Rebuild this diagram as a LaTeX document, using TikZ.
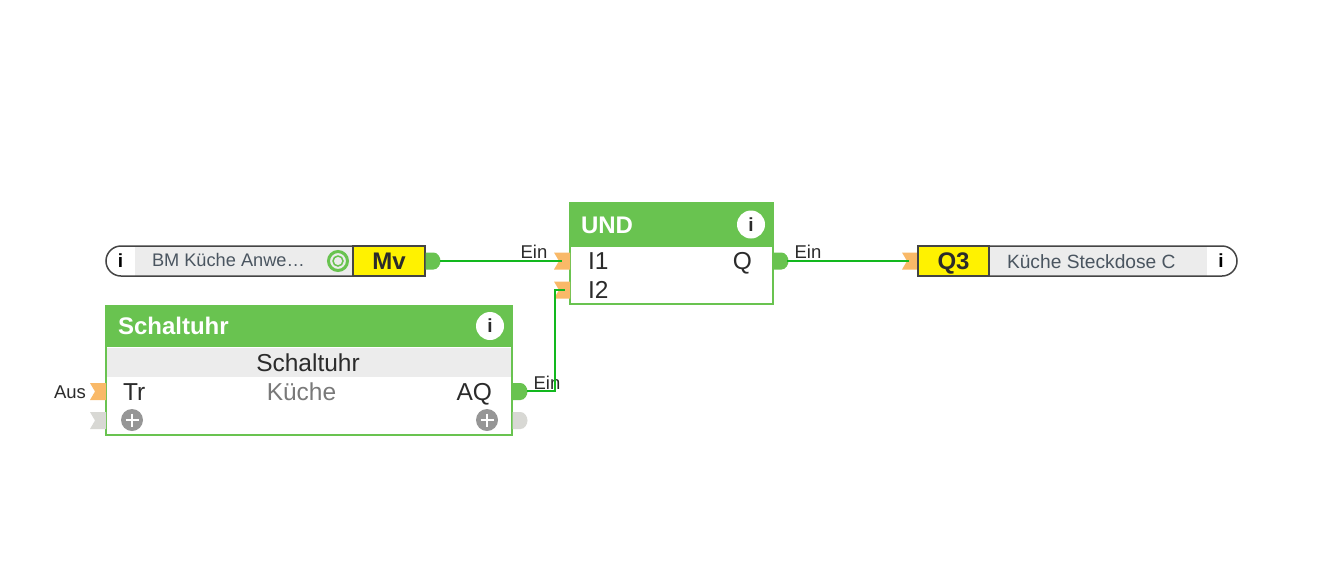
\documentclass[tikz,border=0pt]{standalone}
\usepackage{fontspec}
\setmainfont{Liberation Sans}
\definecolor{lgreen}{HTML}{69C350}
\definecolor{wire}{HTML}{12B81E}
\definecolor{band}{HTML}{ECECEC}
\definecolor{portin}{HTML}{F9B968}
\definecolor{portoff}{HTML}{D8D8D4}
\definecolor{plusg}{HTML}{969696}
\definecolor{edge}{HTML}{444444}
\definecolor{txt}{HTML}{2B2B2B}
\definecolor{labelg}{HTML}{4A5560}
\newcommand{\fs}[1]{\fontsize{#1}{#1}\selectfont}
\tikzset{
  x=1pt,y=-1pt,
  every node/.append style={outer sep=0pt},
  fbox/.style={draw=lgreen,line width=1.5pt,fill=white,inner sep=0pt,anchor=north west},
  head/.style={fill=lgreen,draw=lgreen,line width=1pt,inner sep=0pt,anchor=north west},
  headtxt/.style={text=white,font=\bfseries\fs{24},inner sep=0pt,anchor=west,text height=17pt,text depth=0pt},
  bandbox/.style={fill=band,inner sep=0pt,anchor=north west},
  pintxt/.style={text=txt,font=\fs{24.5},inner sep=0pt,text height=17pt,text depth=0pt},
  wirelab/.style={text=txt,font=\fs{18.5},inner sep=0pt,text height=13pt,text depth=0pt},
  infocirc/.style={circle,fill=white,minimum size=28pt,inner sep=0pt,text=txt,font=\bfseries\fs{19},text height=13pt,text depth=0pt},
  infoplain/.style={inner sep=0pt,text=black,font=\bfseries\fs{19},text height=13pt,text depth=0pt},
  plusbtn/.style={circle,fill=plusg,minimum size=22pt,inner sep=0pt},
  yellowbox/.style={fill=yellow,draw=edge,line width=1.5pt,inner sep=0pt,anchor=north west,text=txt,font=\bfseries\fs{24},text height=17pt,text depth=0pt},
  greybox/.style={fill=band,inner sep=0pt,anchor=north west},
  iotxt/.style={text=labelg,font=\fs{19.2},inner sep=0pt,anchor=west,text height=13.5pt,text depth=0pt},
  pill/.style={draw=edge,line width=1.5pt},
  wireline/.style={draw=wire,line width=2pt},
}
% input flag: #1 colour, #2 right x, #3 centre y
\newcommand{\inflag}[3]{\fill[#1] (#2-16,#3-8.5) -- (#2,#3-8.5) -- (#2,#3+8.5) -- (#2-16,#3+8.5) -- (#2-11,#3) -- cycle;}
% output lobe: #1 colour, #2 left x, #3 centre y
\newcommand{\outlobe}[3]{\fill[#1] (#2,#3-8.5) -- (#2+8,#3-8.5) .. controls (#2+12,#3-8.5) and (#2+15,#3-4) .. (#2+15,#3) .. controls (#2+15,#3+4) and (#2+12,#3+8.5) .. (#2+8,#3+8.5) -- (#2,#3+8.5) -- cycle;}
\begin{document}
\begin{tikzpicture}
\useasboundingbox[fill=white] (0,0) rectangle (1330,582);

% --- input pill
\node[greybox,minimum width=218pt,minimum height=29pt] (bmgrey) at (135,246.5) {};
\draw[pill] (353,246) -- (121,246) arc[start angle=270,end angle=90,radius=15] -- (353,276);
\node[infoplain] (bminfo) at (120.5,261) {i};
\node[iotxt,font=\fs{18.2}] (bmtxt) at (152,260) {BM Küche Anwe…};
\node[circle,draw=lgreen,fill=none,line width=3pt,minimum size=19pt,inner sep=0pt] (bmring) at (338,261) {};
\node[circle,draw=lgreen,fill=none,line width=1.5pt,minimum size=10pt,inner sep=0pt] (bmdot) at (338,261) {};
\node[yellowbox,minimum width=72pt,minimum height=30pt] (mv) at (353,246) {Mv};
\outlobe{lgreen}{425.5}{261}
\coordinate (mvout) at (440,261);

% --- Schaltuhr block
\node[fbox,minimum width=406pt,minimum height=129.5pt] (su) at (106,305.5) {};
\node[head,minimum width=406pt,minimum height=41pt] (suhead) at (106,305.5) {};
\node[headtxt] (sutitle) at (118,325.5) {Schaltuhr};
\node[infocirc] (suinfo) at (490,326) {i};
\node[bandbox,minimum width=404.5pt,minimum height=29pt] (suband) at (106.8,348) {};
\node[pintxt] (suname) at (308,363) {Schaltuhr};
\node[pintxt,anchor=west] (tr) at (123,391.5) {Tr};
\node[pintxt,text=gray!95!black] (kueche) at (301.5,391.5) {Küche};
\node[pintxt,anchor=east] (aq) at (492,391.5) {AQ};
\node[plusbtn] (plusl) at (132,420) {};
\node[plusbtn] (plusr) at (487,420) {};
\draw[white,line width=1.4pt] (125.5,420) -- (138.5,420) (132,413.5) -- (132,426.5) (480.5,420) -- (493.5,420) (487,413.5) -- (487,426.5);
\inflag{portin}{106}{391.5}
\inflag{portoff}{106}{420.5}
\outlobe{lgreen}{512.5}{391.5}
\outlobe{portoff}{512.5}{420.5}
\coordinate (aqout) at (527,391);
\node[wirelab,anchor=east] (aus) at (86,392) {Aus};
\node[wirelab] (ein3) at (547,383) {Ein};

% --- UND block
\node[fbox,minimum width=203pt,minimum height=101pt] (und) at (570,203) {};
\node[head,minimum width=203pt,minimum height=43pt] (undhead) at (570,203) {};
\node[headtxt] (undtitle) at (581,224.5) {UND};
\node[infocirc] (undinfo) at (751,224.5) {i};
\node[pintxt,anchor=west] (i1) at (588,261) {I1};
\node[pintxt,anchor=west] (i2) at (588,290) {I2};
\node[pintxt,anchor=east] (q) at (752,261) {Q};
\inflag{portin}{570}{261}
\inflag{portin}{570}{290}
\outlobe{lgreen}{773.5}{261}
\coordinate (i1in) at (562,261);
\coordinate (i2in) at (565,290);
\coordinate (qout) at (787,261);
\node[wirelab] (ein1) at (534,252) {Ein};
\node[wirelab] (ein2) at (808,252) {Ein};

% --- output pill
\inflag{portin}{918}{261}
\coordinate (q3in) at (909,261);
\node[greybox,minimum width=218pt,minimum height=29pt] (q3grey) at (989,246.5) {};
\draw[pill] (989,246) -- (1222,246) arc[start angle=270,end angle=450,radius=15] -- (989,276);
\node[yellowbox,minimum width=71pt,minimum height=30pt] (q3) at (918,246) {Q3};
\node[iotxt] (q3txt) at (1007,261.5) {Küche Steckdose C};
\node[infoplain] (q3info) at (1221,261) {i};

% --- connectors
\draw[wireline] (mvout) -- (i1in);
\draw[wireline] (qout) -- (q3in);
\draw[wireline] (aqout) -- (555,391) |- (i2in);
\end{tikzpicture}
\end{document}
